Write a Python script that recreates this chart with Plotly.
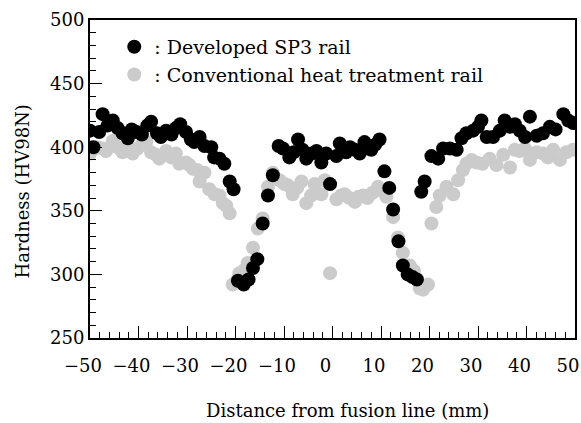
import plotly.graph_objects as go

# Developed SP3 rail (black)
sp3_x = [-50, -49.3, -48.1, -47.4, -46.4, -45.3, -44.3, -43.3, -42.2, -41.4, -40.4, -39.3, -38.2, -37.4,
         -36.2, -35.4, -34.3, -33.2, -32.3, -31.4, -30.2, -29.2, -28.5, -27.4, -26.4, -25.0, -24.4, -23.3,
         -22.3, -21.2, -20.4, -19.5, -18.3, -17.3, -16.4, -15.5, -14.4, -13.3, -12.3, -11.1, -10.2, -8.9,
         -8.0, -7.1, -6.2, -5.4, -4.3, -3.3, -2.3, -1.3, -0.5, 0.8, 1.5, 2.8, 3.6, 4.6, 5.6, 6.6, 7.4, 8.0,
         8.8, 9.7, 10.7, 11.7, 12.5, 13.6, 14.5, 15.5, 16.5, 17.4, 18.3, 19.0, 20.4, 21.8, 22.8, 24.2, 25.6,
         26.6, 27.6, 29.0, 30.0, 30.7, 31.8, 33.1, 34.5, 35.5, 36.6, 37.6, 38.6, 39.7, 40.7, 42.1, 43.4,
         44.8, 46.0, 47.6, 48.6, 49.6]
sp3_y = [413, 400, 412, 426, 417, 421, 415, 411, 407, 414, 412, 410, 417, 420,
         411, 408, 413, 410, 415, 418, 412, 406, 404, 408, 401, 400, 392, 391,
         387, 373, 367, 295, 292, 296, 305, 312, 340, 362, 378, 401, 399, 392,
         396, 406, 398, 391, 395, 397, 388, 395, 371, 393, 403, 396, 400, 398, 395, 404, 399, 398,
         402, 406, 381, 368, 351, 326, 307, 300, 298, 296, 365, 373, 393, 391, 399, 399, 398,
         407, 411, 413, 416, 421, 408, 408, 413, 421, 416, 418, 413, 408, 424, 409, 411,
         416, 414, 426, 421, 419]

# Conventional heat treatment rail (grey)
conv_x = [-50, -49.0, -48.4, -47.4, -46.7, -45.3, -44.3, -43.3, -42.2, -41.2, -40.2, -39.3, -38.4, -37.4,
          -36.4, -35.7, -34.3, -33.3, -32.3, -31.6, -30.2, -29.5, -28.8, -27.9, -27.4, -26.4, -25.4, -24.3,
          -23.3, -22.6, -21.9, -21.2, -20.6, -19.6, -19.2, -18.3, -17.5, -16.4, -15.4, -14.4, -13.3, -12.3,
          -10.9, -9.9, -9.2, -8.2, -7.3, -6.4, -5.4, -4.4, -3.7, -2.3, -1.6, -0.5, 0.8, 1.8, 2.5, 3.5, 4.6,
          5.4, 6.3, 7.2, 8.2, 9.4, 10.2, 11.1, 12.5, 13.5, 14.5, 15.9, 16.8, 18.0, 18.7, 19.7, 20.4, 21.4,
          22.1, 23.5, 24.9, 25.9, 26.9, 27.6, 28.7, 29.7, 30.9, 32.4, 33.8, 35.2, 36.6, 37.6, 38.6, 39.7,
          40.7, 42.1, 43.4, 44.4, 45.5, 46.9, 48.2, 49.6]
conv_y = [395, 399, 400, 399, 397, 405, 400, 396, 398, 395, 399, 402, 404, 396,
          394, 391, 397, 392, 395, 387, 388, 386, 383, 382, 373, 380, 367, 363,
          362, 356, 354, 348, 292, 296, 301, 303, 309, 321, 336, 344, 369, 380,
          374, 371, 370, 363, 368, 373, 356, 362, 371, 363, 374, 301, 359, 362, 363, 360, 357,
          361, 362, 360, 364, 369, 366, 361, 345, 329, 317, 307, 303, 289, 288, 292, 340, 353,
          362, 369, 363, 374, 382, 387, 390, 388, 387, 391, 386, 394, 384, 398, 397, 399,
          390, 396, 395, 392, 398, 390, 396, 398]

x_ticks = [-50, -40, -30, -20, -10, 0, 10, 20, 30, 40, 50]
y_ticks = [250, 300, 350, 400, 450, 500]

FONT = "DejaVu Serif"

fig = go.Figure()
fig.add_trace(go.Scatter(
    x=conv_x, y=conv_y, mode="markers", name=": Conventional heat treatment rail",
    marker=dict(color="#cbcbcb", size=14, line=dict(width=0)),
    legendrank=2, legendgroup="b"))
fig.add_trace(go.Scatter(
    x=sp3_x, y=sp3_y, mode="markers", name=": Developed SP3 rail",
    marker=dict(color="#000000", size=14, line=dict(width=0)),
    legendrank=1, legendgroup="a"))

axis_common = dict(
    showline=True, linecolor="black", linewidth=2, mirror=True,
    ticks="inside", tickcolor="black", tickwidth=1.3, ticklen=12,
    showgrid=False, zeroline=False, automargin=False,
    tickfont=dict(family=FONT, size=18, color="black"),
)

fig.update_xaxes(range=[-50, 50], tickvals=x_ticks, ticklabelshift=-7, ticklabelstandoff=10,
                 minor=dict(dtick=2, ticks="inside", ticklen=6, tickcolor="black", tickwidth=1.3),
                 **axis_common)
fig.update_yaxes(range=[250, 500], tickvals=y_ticks,
                 minor=dict(dtick=10, ticks="inside", ticklen=6, tickcolor="black", tickwidth=1.3),
                 **axis_common)

fig.update_layout(
    width=581, height=423,
    margin=dict(l=90, r=6, t=20, b=85),
    paper_bgcolor="white", plot_bgcolor="white",
    font=dict(family=FONT, size=18, color="black"),
    showlegend=True,
    legend=dict(x=0.05, y=0.975, xanchor="left", yanchor="top",
                bgcolor="rgba(0,0,0,0)", traceorder="grouped", tracegroupgap=0,
                font=dict(family=FONT, size=19, color="black"), itemwidth=30),
    annotations=[
        dict(text="Distance from fusion line (mm)", xref="paper", yref="paper",
             x=0.53, y=-0.228, xanchor="center", yanchor="middle", showarrow=False,
             font=dict(family=FONT, size=18, color="black")),
        dict(text="Hardness (HV98N)", xref="paper", yref="paper",
             x=-0.140, y=0.461, xanchor="center", yanchor="middle", showarrow=False,
             textangle=-90, font=dict(family=FONT, size=18, color="black")),
    ],
)

fig.write_html("out.html")
